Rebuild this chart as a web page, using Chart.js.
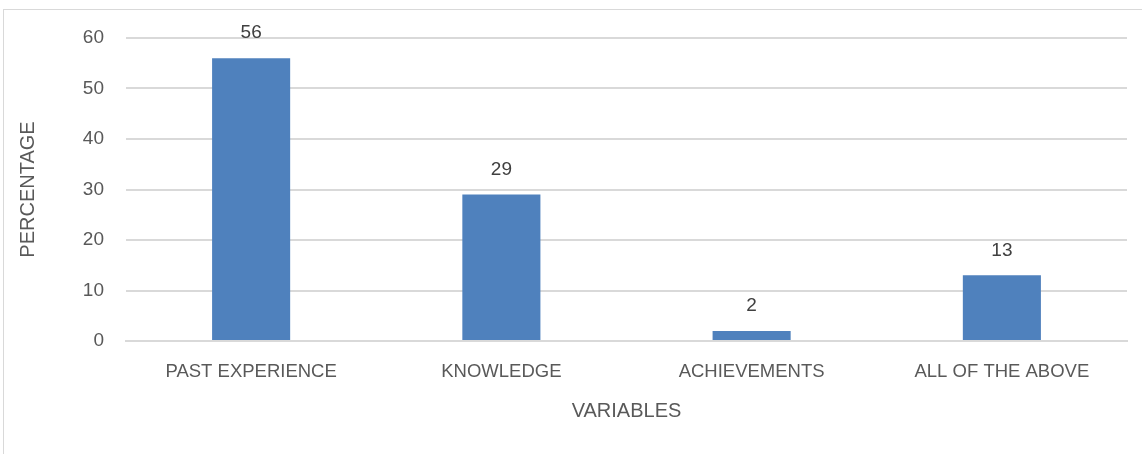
<!DOCTYPE html>
<html>
<head>
<meta charset="utf-8">
<script src="https://cdn.jsdelivr.net/npm/chart.js@4"></script>
<style>
  html, body { margin: 0; padding: 0; background: #fff; }
  #wrap { position: relative; width: 1142px; height: 454px; overflow: hidden; }
  #frame { position: absolute; left: 3px; top: 9px; width: 1200px; height: 500px; border: 1px solid #d9d9d9; box-sizing: border-box; }
  canvas { position: absolute; left: 0; top: 0; }
</style>
</head>
<body>
<div id="wrap">
  <div id="frame"></div>
  <canvas id="chart" width="1142" height="454"></canvas>
</div>
<script>
const categories = ["PAST EXPERIENCE", "KNOWLEDGE", "ACHIEVEMENTS", "ALL OF THE ABOVE"];
const percentages = [56, 29, 2, 13];
const yTicks = [0, 10, 20, 30, 40, 50, 60];

const fontFamily = '"Liberation Sans Narrow", "Arial Narrow", "Liberation Sans", sans-serif';

const valueLabels = {
  id: "valueLabels",
  afterDatasetsDraw(chart) {
    const ctx = chart.ctx;
    const meta = chart.getDatasetMeta(0);
    ctx.save();
    ctx.font = "19px " + fontFamily;
    ctx.fillStyle = "#404040";
    ctx.textAlign = "center";
    ctx.textBaseline = "middle";
    meta.data.forEach((bar, i) => {
      ctx.fillText(String(percentages[i]), bar.x, bar.y - 25);
    });
    ctx.restore();
  }
};

const chart = new Chart(document.getElementById("chart"), {
  type: "bar",
  data: {
    labels: categories,
    datasets: [{
      data: percentages,
      backgroundColor: "#4f81bd",
      borderWidth: 0,
      barPercentage: 0.312,
      categoryPercentage: 1
    }]
  },
  options: {
    responsive: false,
    animation: false,
    layout: { padding: { top: 38, right: 15, left: 0, bottom: 0 } },
    plugins: { legend: { display: false }, tooltip: { enabled: false } },
    scales: {
      x: {
        grid: { display: false, drawTicks: false },
        border: { display: true, color: "#d9d9d9", width: 2 },
        ticks: { color: "#595959", font: { family: fontFamily, size: 18.5 }, padding: 20, maxRotation: 0 },
        title: { display: true, text: "VARIABLES", color: "#595959", font: { family: fontFamily, size: 20 }, padding: { top: 0, bottom: 31 } },
        afterFit(scale) { scale.height = 113; }
      },
      y: {
        min: 0,
        max: 60,
        afterBuildTicks(scale) { scale.ticks = yTicks.map(v => ({ value: v })); },
        grid: { color: "#d9d9d9", lineWidth: 2, drawTicks: false },
        border: { display: false },
        ticks: { color: "#595959", font: { family: fontFamily, size: 19 }, padding: 22 },
        title: { display: true, text: "PERCENTAGE", color: "#595959", font: { family: fontFamily, size: 20 }, padding: { top: 16, bottom: 0 } },
        afterFit(scale) { scale.width = 126; }
      }
    }
  },
  plugins: [valueLabels]
});
</script>
</body>
</html>
